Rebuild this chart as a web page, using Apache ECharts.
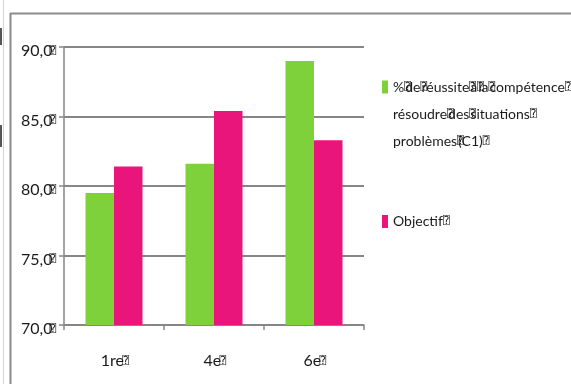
<!DOCTYPE html>
<html>
<head>
<meta charset="utf-8">
<script src="https://cdn.jsdelivr.net/npm/echarts@6/dist/echarts.min.js"></script>
<style>
  html, body { margin: 0; padding: 0; background: #fff; }
  #chart { width: 571px; height: 384px; }
</style>
</head>
<body>
<div id="chart"></div>
<script>
// Grade levels on the category axis
var categories = ['1re⍰', '4e⍰', '6e⍰'];
// Success rate for competency C1 and the target rate, per grade
var reussite = [79.5, 81.6, 89.0];
var objectif = [81.4, 85.4, 83.3];
// Value-axis range and step
var yMin = 70, yMax = 90, yStep = 5;

var serieReussite = '%⍰de⍰réussite⍰à⍰la⍰compétence⍰\nrésoudre⍰des⍰situations⍰\nproblèmes⍰(C1)⍰';
var serieObjectif = 'Objectif⍰';

var FONT = 'Lato, "Liberation Sans", sans-serif';
var GRID_COLOR = '#868686';
var TEXT_COLOR = '#1a1a1a';
var LINE_H = 27;

// the placeholder glyph takes only a narrow slot and overlaps its neighbours
function boxStyle(lh, w) {
  return { fontFamily: '"DejaVu Sans Mono", monospace', fontSize: 11, width: w, color: TEXT_COLOR, lineHeight: lh };
}
function boxed(s) { return s.replace(/⍰/g, '{q|⍰}'); }

var chart = echarts.init(document.getElementById('chart'));
chart.setOption({
  animation: false,
  backgroundColor: '#fff',
  textStyle: { fontFamily: FONT },
  graphic: [
    // outer page edge and chart frame
    { type: 'line', shape: { x1: 3.5, y1: 0, x2: 3.5, y2: 384 }, style: { stroke: '#d4d4d4', lineWidth: 1 } },
    { type: 'rect', shape: { x: 0, y: 28, width: 2, height: 17 }, style: { fill: '#555' } },
    { type: 'rect', shape: { x: 0, y: 125, width: 2, height: 22 }, style: { fill: '#555' } },
    { type: 'line', shape: { x1: 10.5, y1: 13, x2: 10.5, y2: 384 }, style: { stroke: '#8c8c8c', lineWidth: 2 } },
    { type: 'line', shape: { x1: 10, y1: 13.5, x2: 571, y2: 13.5 }, style: { stroke: '#8c8c8c', lineWidth: 2 } }
  ],
  grid: { left: 64, right: 207, top: 47, bottom: 59 },
  legend: [
    {
      data: [serieReussite],
      left: 382, top: 19.5, padding: 0,
      orient: 'vertical',
      icon: 'rect', itemWidth: 6, itemHeight: 13, itemGap: 0,
      // two blank leading lines keep the first text line level with the swatch
      formatter: function (name) { return ' \n \n' + boxed(name); },
      textStyle: {
        fontFamily: FONT, fontSize: 14, color: TEXT_COLOR, lineHeight: LINE_H,
        rich: { q: boxStyle(LINE_H, 1) }
      }
    },
    {
      data: [serieObjectif],
      left: 382, top: 208, padding: 0,
      orient: 'vertical',
      icon: 'rect', itemWidth: 6, itemHeight: 13,
      formatter: function (name) { return boxed(name); },
      textStyle: {
        fontFamily: FONT, fontSize: 14, color: TEXT_COLOR, lineHeight: LINE_H,
        rich: { q: boxStyle(LINE_H, 1) }
      }
    }
  ],
  xAxis: {
    type: 'category',
    data: categories,
    axisLine: { lineStyle: { color: GRID_COLOR, width: 1.5 } },
    axisTick: { show: true, length: 5, lineStyle: { color: GRID_COLOR, width: 1.5 } },
    axisLabel: {
      fontFamily: FONT, fontSize: 16, color: TEXT_COLOR, margin: 26,
      formatter: function (v) { return boxed(v); },
      rich: { q: boxStyle(20, 3.5) }
    }
  },
  yAxis: {
    type: 'value',
    min: yMin, max: yMax, interval: yStep,
    axisLine: { show: true, lineStyle: { color: GRID_COLOR, width: 1.5 } },
    axisTick: { show: true, length: 5, lineStyle: { color: GRID_COLOR, width: 1.5 } },
    splitLine: { lineStyle: { color: GRID_COLOR, width: 2 } },
    axisLabel: {
      fontFamily: FONT, fontSize: 16, color: TEXT_COLOR, margin: 8,
      padding: [8, 0, 0, 0],
      formatter: function (v) { return boxed(v.toFixed(1).replace('.', ',') + '⍰'); },
      rich: { q: boxStyle(20, 3.5) }
    }
  },
  series: [
    {
      name: serieReussite, type: 'bar', data: reussite,
      barGap: '0%', barCategoryGap: '43%',
      itemStyle: { color: '#7fd13b' }
    },
    {
      name: serieObjectif, type: 'bar', data: objectif,
      itemStyle: { color: '#ea157a' }
    }
  ]
});
</script>
</body>
</html>
